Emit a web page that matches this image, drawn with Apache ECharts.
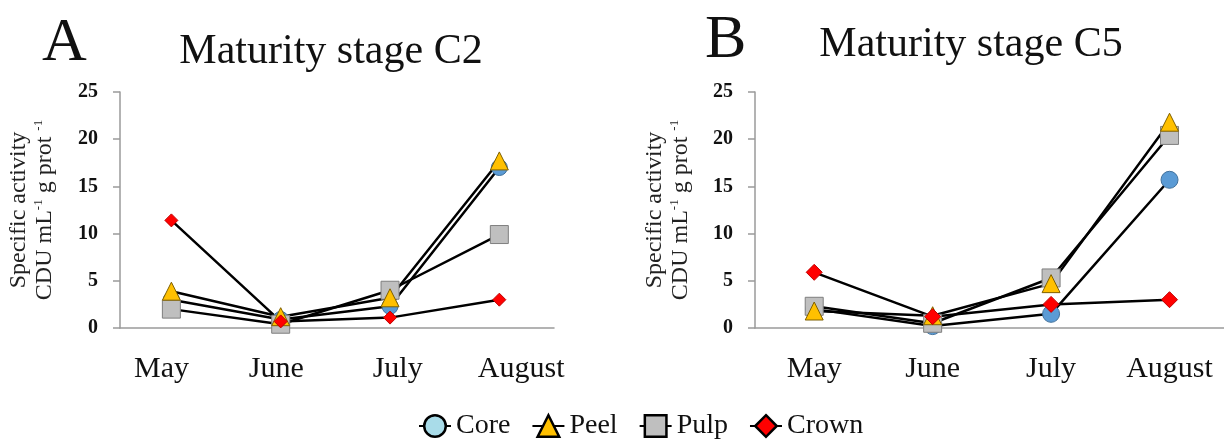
<!DOCTYPE html>
<html>
<head>
<meta charset="UTF-8" />
<title>Maturity stage C2 / C5</title>
<script src="https://cdn.jsdelivr.net/npm/echarts@6/dist/echarts.min.js"></script>
<style>
  html, body { margin: 0; padding: 0; background: #fff; }
  #main { width: 1224px; height: 439px; }
</style>
</head>
<body>
<div id="main"></div>
<script type="text/javascript">
// months on the x axis
const months = ['May', 'June', 'July', 'August'];
// where the month labels sit (in month units) - panel A's labels drift right
const labelPosA = [-0.09, 0.96, 2.07, 3.2];
const labelPosB = [0, 1, 2, 3];

// panel A - maturity stage C2
const coreC2 = [3.0, 0.9, 2.3, 17.0];
const peelC2 = [3.9, 1.2, 3.2, 17.7];
const pulpC2 = [2.0, 0.4, 4.0, 9.9];
const crownC2 = [11.4, 0.7, 1.1, 3.0];

// panel B - maturity stage C5
const coreC5 = [2.0, 0.2, 1.5, 15.7];
const peelC5 = [1.8, 1.3, 4.7, 21.8];
const pulpC5 = [2.3, 0.5, 5.3, 20.4];
const crownC5 = [5.9, 1.2, 2.5, 3.0];

const FONT = 'Liberation Serif';

const chart = echarts.init(document.getElementById('main'));

// month index -> [x, y]
function toXY(arr) {
  return arr.map(function (v, i) { return [i, v]; });
}

function xAxisFor(gridIndex, min, max, labelPos) {
  return {
    type: 'value', gridIndex: gridIndex, min: min, max: max,
    axisLine: { show: true, onZero: false, lineStyle: { color: '#9a9a9a', width: 1.5 } },
    axisTick: { show: false },
    splitLine: { show: false },
    axisLabel: {
      customValues: labelPos,
      formatter: function (v) { return months[labelPos.indexOf(v)]; },
      fontFamily: FONT, fontSize: 30, color: '#111', margin: 26
    }
  };
}

function yAxisFor(gridIndex, gap) {
  return {
    type: 'value', gridIndex: gridIndex, min: 0, max: 25, interval: 5,
    name: 'Specific activity\nCDU mL{sup|-1} g prot {sup|-1}',
    nameLocation: 'middle', nameRotate: 90, nameGap: gap,
    nameTextStyle: {
      fontFamily: FONT, fontSize: 24, color: '#222', lineHeight: 26,
      rich: { sup: { fontFamily: FONT, fontSize: 13, color: '#222', lineHeight: 26, verticalAlign: 'top', padding: [0, 0, 12, 0] } }
    },
    axisLine: { show: true, onZero: false, lineStyle: { color: '#9a9a9a', width: 1.5 } },
    axisTick: { show: true, length: 7, lineStyle: { color: '#9a9a9a', width: 1.5 } },
    splitLine: { show: false },
    axisLabel: { fontFamily: FONT, fontSize: 20, fontWeight: 'bold', color: '#111', margin: 22 }
  };
}

const styles = {
  Core:  { symbol: 'circle',   color: '#5b9bd5', border: '#41719c' },
  Peel:  { symbol: 'triangle', color: '#ffc000', border: '#7f6000' },
  Pulp:  { symbol: 'rect',     color: '#bfbfbf', border: '#7f7f7f' },
  Crown: { symbol: 'diamond',  color: '#ff0000', border: '#c00000' }
};

function line(name, values, idx, size) {
  const s = styles[name];
  return {
    name: name, type: 'line', xAxisIndex: idx, yAxisIndex: idx,
    data: toXY(values),
    symbol: s.symbol, symbolSize: size,
    lineStyle: { color: '#000', width: 2.5 },
    itemStyle: { color: s.color, borderColor: s.border, borderWidth: 1 },
    emphasis: { disabled: true },
    animation: false
  };
}

const titleStyle = function (size) {
  return { fontFamily: FONT, fontSize: size, fontWeight: 'normal', color: '#111' };
};

const option = {
  backgroundColor: '#fff',
  title: [
    { text: 'A', left: 37, top: 8, textStyle: titleStyle(62) },
    { text: 'Maturity stage C2', left: 326, top: 26, textAlign: 'center', textStyle: titleStyle(42) },
    { text: 'B', left: 700, top: 5, textStyle: titleStyle(62) },
    { text: 'Maturity stage C5', left: 966, top: 19, textAlign: 'center', textStyle: titleStyle(42) }
  ],
  legend: {
    top: 407, left: 413,
    itemWidth: 32, itemHeight: 27, itemGap: 21,
    lineStyle: { width: 2, color: '#000' },
    textStyle: { fontFamily: FONT, fontSize: 28, color: '#111' },
    data: [
      { name: 'Core', itemStyle: { color: '#a9dce9', borderColor: '#000', borderWidth: 2.5 } },
      { name: 'Peel', itemStyle: { color: '#ffc000', borderColor: '#000', borderWidth: 2.5 } },
      { name: 'Pulp', itemStyle: { color: '#bfbfbf', borderColor: '#000', borderWidth: 2.5 } },
      { name: 'Crown', itemStyle: { color: '#ff0000', borderColor: '#000', borderWidth: 2.5 } }
    ]
  },
  grid: [
    { left: 120, top: 92, width: 434, height: 236 },
    { left: 755, top: 92, width: 469, height: 236 }
  ],
  xAxis: [xAxisFor(0, -0.47, 3.5, labelPosA), xAxisFor(1, -0.5, 3.46, labelPosB)],
  yAxis: [yAxisFor(0, 62), yAxisFor(1, 61)],
  series: [
    line('Core', coreC2, 0, 16),
    line('Pulp', pulpC2, 0, 18),
    line('Peel', peelC2, 0, 18),
    line('Crown', crownC2, 0, 13),
    line('Core', coreC5, 1, 17),
    line('Pulp', pulpC5, 1, 18),
    line('Peel', peelC5, 1, 18),
    line('Crown', crownC5, 1, 16)
  ]
};

chart.setOption(option);
</script>
</body>
</html>
